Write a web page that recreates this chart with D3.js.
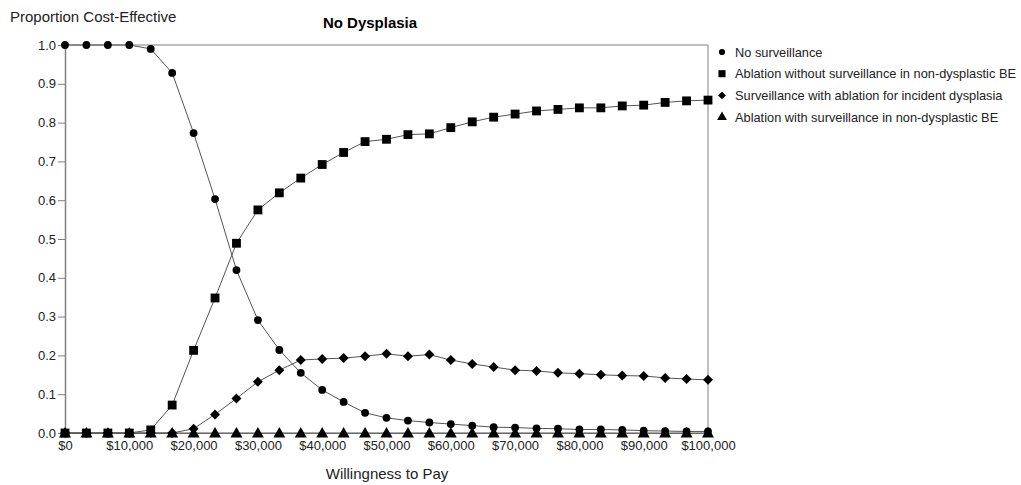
<!DOCTYPE html>
<html><head><meta charset="utf-8">
<script src="https://cdn.jsdelivr.net/npm/d3@7"></script>
<style>body{margin:0;background:#fff;font-family:"Liberation Sans",Arial,sans-serif;}</style>
</head><body>
<svg id="c" width="1021" height="485"></svg>
<script>
const wtp = d3.range(31).map(i => i * 100000 / 30);
const noSurv = [1,1,1,1,0.99,0.928,0.773,0.603,0.42,0.291,0.214,0.155,0.111,0.08,0.052,0.039,0.032,0.027,0.023,0.019,0.015,0.014,0.012,0.011,0.009,0.009,0.008,0.006,0.005,0.004,0.004];
const ablNoSurv = [0,0,0,0,0.008,0.072,0.213,0.348,0.489,0.575,0.619,0.657,0.692,0.723,0.751,0.757,0.769,0.771,0.787,0.802,0.814,0.822,0.830,0.834,0.838,0.838,0.843,0.845,0.852,0.856,0.858];
const survAbl = [0,0,0,0,0,0,0.011,0.048,0.089,0.132,0.162,0.188,0.191,0.193,0.198,0.204,0.198,0.202,0.188,0.178,0.170,0.162,0.160,0.155,0.153,0.150,0.148,0.147,0.142,0.139,0.137];
const ablSurv = wtp.map(() => 0);
const seriesNames = ["No surveillance","Ablation without surveillance in non-dysplastic BE","Surveillance with ablation for incident dysplasia","Ablation with surveillance in non-dysplastic BE"];
const yTicks = [0,0.1,0.2,0.3,0.4,0.5,0.6,0.7,0.8,0.9,1.0];
const xTicks = [0,10000,20000,30000,40000,50000,60000,70000,80000,90000,100000];

const svg = d3.select("#c");
const L = 65, R = 708, T = 45, B = 433;
const x = d3.scaleLinear().domain([0,100000]).range([L,R]);
const y = d3.scaleLinear().domain([0,1]).range([B,T]);
const axisCol = "#808080";

svg.append("line").attr("x1",L).attr("x2",R).attr("y1",T).attr("y2",T).attr("stroke",axisCol);
svg.append("line").attr("x1",R).attr("x2",R).attr("y1",T).attr("y2",B).attr("stroke",axisCol);

const ya = svg.append("g").attr("transform",`translate(${L},0)`)
  .call(d3.axisLeft(y).tickValues(yTicks).tickFormat(d3.format(".1f")).tickSize(7).tickSizeOuter(0));
ya.select(".domain").attr("stroke",axisCol).attr("stroke-width",1.5);
ya.selectAll(".tick line").attr("stroke",axisCol);
ya.selectAll("text").attr("font-family","Liberation Sans, Arial, sans-serif").attr("font-size",13).attr("fill","#222").attr("x",-9);

const xa = svg.append("g").attr("transform",`translate(0,${B})`)
  .call(d3.axisBottom(x).tickValues(xTicks).tickFormat(d => "$" + d3.format(",")(d)).tickSize(0).tickSizeOuter(0));
xa.select(".domain").attr("stroke",axisCol);
xa.selectAll("text").attr("font-family","Liberation Sans, Arial, sans-serif").attr("font-size",13).attr("fill","#222").attr("dy","1.05em");

const lineGen = d3.line().x((d,i) => x(wtp[i])).y(d => y(d));
const data = [ablSurv, survAbl, ablNoSurv, noSurv];
const syms = [d3.symbolTriangle, d3.symbolSquare, d3.symbolSquare, d3.symbolCircle];
const rots = [0, 45, 0, 0];
const dy = [1, 0, 0, 0];
const sizes = [62, 50, 78, 48];
data.forEach((s,k) => {
  svg.append("path").attr("d", lineGen(s)).attr("fill","none").attr("stroke","#555").attr("stroke-width",1);
});
data.forEach((s,k) => {
  svg.append("g").selectAll("path").data(s).join("path")
    .attr("transform",(d,i) => `translate(${x(wtp[i])},${y(d)+dy[k]}) rotate(${rots[k]})`)
    .attr("d", d3.symbol().type(syms[k]).size(sizes[k])).attr("fill","#000");
});

svg.append("text").attr("x",10).attr("y",22).attr("font-size",15).attr("fill","#222").text("Proportion Cost-Effective");
svg.append("text").attr("x",370).attr("y",28).attr("font-size",15).attr("font-weight","bold").attr("text-anchor","middle").attr("fill","#000").text("No Dysplasia");
svg.append("text").attr("x",387).attr("y",479).attr("font-size",15).attr("text-anchor","middle").attr("fill","#222").text("Willingness to Pay");

const legSyms = [d3.symbolCircle, d3.symbolSquare, d3.symbolSquare, d3.symbolTriangle];
const legRots = [0, 0, 45, 0];
const legSizes = [30, 50, 30, 42];
seriesNames.forEach((n,i) => {
  const yy = 52 + i*21.7;
  svg.append("path").attr("transform",`translate(722,${yy}) rotate(${legRots[i]})`).attr("d", d3.symbol().type(legSyms[i]).size(legSizes[i])).attr("fill","#000");
  svg.append("text").attr("x",735).attr("y",yy+4.5).attr("font-size",12.8).attr("fill","#222").text(n);
});
</script>
</body></html>
